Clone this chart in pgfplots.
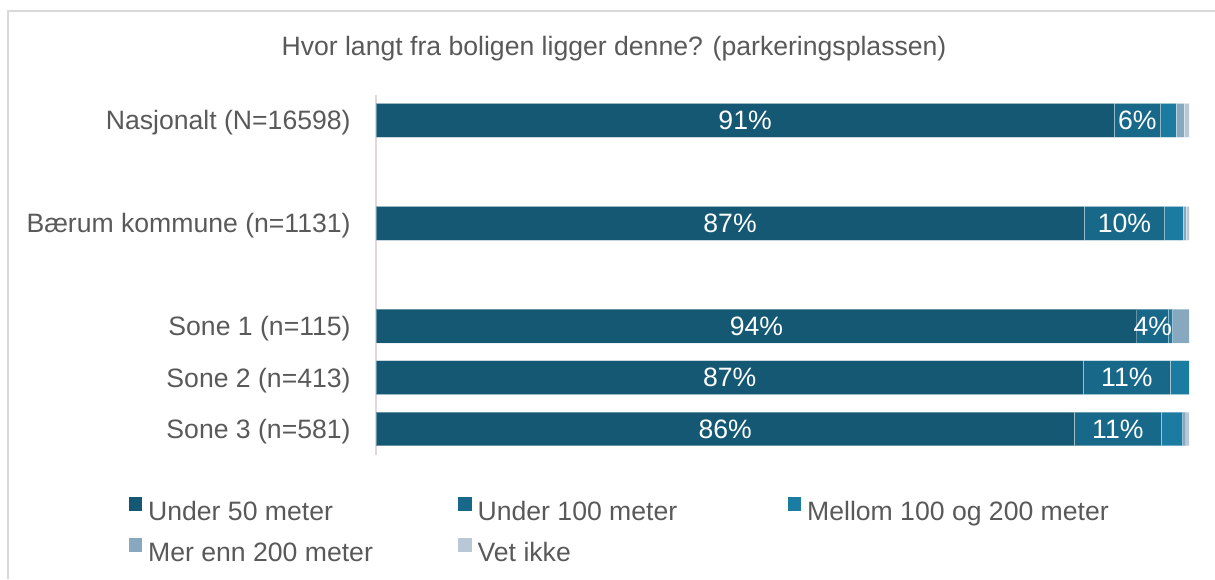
\documentclass[border=0pt]{standalone}
\usepackage{pgfplots}
\pgfplotsset{compat=1.18}
\usepackage{fontspec}
\setmainfont{Liberation Sans}
\definecolor{cA}{HTML}{155873}
\definecolor{cB}{HTML}{18688A}
\definecolor{cC}{HTML}{1C7BA0}
\definecolor{cD}{HTML}{88A8BF}
\definecolor{cE}{HTML}{B8C8D6}
\definecolor{txt}{HTML}{595959}
\definecolor{framec}{HTML}{D9D9D9}
\definecolor{yline}{HTML}{E6D6DC}
\newcommand{\fs}{\fontsize{13.3pt}{16pt}\selectfont}
\newcommand{\lb}[1]{\makebox[155pt][l]{#1}}
\begin{document}
\begin{tikzpicture}
\useasboundingbox (0,0) rectangle (607.5pt,-289.5pt);
\draw[framec, line width=0.8pt] (607.5pt,-5.5pt) -- (4pt,-5.5pt) -- (4pt,-289.5pt);
\node[anchor=base, text=txt, font=\fs, inner sep=0pt] at (307pt,-27.5pt) {Hvor langt fra boligen ligger denne? (parkeringsplassen)};
\begin{axis}[
  at={(188pt,-227.35pt)}, anchor=south west,
  width=406.5pt, height=180pt, scale only axis,
  xbar stacked, bar width=0.66,
  xmin=0, xmax=100, ymin=-0.5, ymax=6.5, y dir=reverse,
  axis x line=none, axis y line*=left,
  y axis line style={yline, line width=0.8pt, -},
  ytick={0,2,4,5,6},
  yticklabels={Nasjonalt (N=16598), Bærum kommune (n=1131), Sone 1 (n=115), Sone 2 (n=413), Sone 3 (n=581)},
  major tick length=0pt,
  yticklabel style={font=\fs, text=txt, inner sep=0pt, anchor=east, xshift=-12.5pt, text height=9.5pt, text depth=0pt},
  every axis plot/.append style={draw=white, draw opacity=0.35, line width=0.5pt},
  legend style={at={(-0.3047,-0.1164)}, anchor=north west, draw=none, fill=none, inner sep=0pt, font=\fs, text=txt, row sep=6pt,
    nodes={inner sep=0pt, text height=10pt, text depth=3pt},
    /tikz/every odd column/.append style={column sep=3pt}},
  legend columns=3,
  legend image code/.code={\fill[#1, draw=none] (0pt,1.25pt) rectangle (6.75pt,8pt);},
  nodes near coords style={font=\fs, text=white},
]
\addplot[fill=cA, point meta=explicit, nodes near coords={\pgfmathprintnumber[fixed,precision=0,assume math mode=true]{\pgfplotspointmeta}\%}]
  coordinates {(90.8,0) [90.8] (87.1,2) [87.1] (93.6,4) [93.6] (87.0,5) [87.0] (85.9,6) [85.9]};
\addplot[fill=cB, point meta=explicit, nodes near coords={\pgfmathprintnumber[fixed,precision=0,assume math mode=true]{\pgfplotspointmeta}\%}]
  coordinates {(5.7,0) [5.7] (9.9,2) [9.9] (3.9,4) [3.9] (10.7,5) [10.7] (10.7,6) [10.7]};
\addplot[fill=cC] coordinates {(1.9,0) (2.3,2) (0.5,4) (2.3,5) (2.6,6)};
\addplot[fill=cD] coordinates {(1.0,0) (0.35,2) (2.0,4) (0,5) (0.4,6)};
\addplot[fill=cE] coordinates {(0.6,0) (0.35,2) (0,4) (0,5) (0.4,6)};
\legend{\lb{Under 50 meter}, \lb{Under 100 meter}, \lb{Mellom 100 og 200 meter}, \lb{Mer enn 200 meter}, \lb{Vet ikke}}
\end{axis}
\end{tikzpicture}
\end{document}
